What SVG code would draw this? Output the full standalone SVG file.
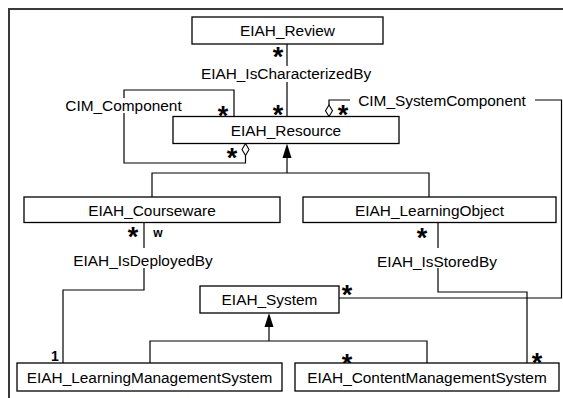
<svg xmlns="http://www.w3.org/2000/svg" width="563" height="398" viewBox="0 0 563 398">
<defs>
<style>
.box{fill:#fff;stroke:#000;stroke-width:1.3}
.cn{fill:none;stroke:#000;stroke-width:1.2}
.frame{fill:none;stroke:#3a3a3a;stroke-width:2}
.lbl{font-family:"Liberation Sans",Arial,sans-serif;font-size:15.4px;fill:#000;text-anchor:middle}
.star{font-family:"Liberation Sans",Arial,sans-serif;font-size:27px;font-weight:bold;fill:#000;text-anchor:middle}
.mult{font-family:"Liberation Sans",Arial,sans-serif;font-weight:bold;fill:#000;text-anchor:middle}
.dia{fill:#fff;stroke:#000;stroke-width:1.1}
.arr{fill:#000;stroke:none}
</style>
</defs>
<rect width="563" height="398" fill="#fff"/>
<path class="frame" d="M9,398 V9 H563"/>
<g id="connectors">
<path class="cn" d="M287,44 V66 M287,82 V116.5"/>
<text class="lbl" x="286" y="78.5">EIAH_IsCharacterizedBy</text>
<text class="star" x="278" y="65.5">*</text>
<text class="star" x="278" y="123.5">*</text>
<path class="cn" d="M234,116.5 V90 H124 V98 M124,113 V163 H245.5 V155.5"/>
<polygon class="dia" points="245.5,143.5 249,149.5 245.5,155.5 242,149.5"/>
<text class="lbl" x="123.5" y="111">CIM_Component</text>
<text class="star" x="223" y="124.5">*</text>
<text class="star" x="232" y="166.5">*</text>
<path class="cn" d="M329,105 V100 H350 M535,100 H561.5 V298 H339"/>
<polygon class="dia" points="329,105 332.5,110.75 329,116.5 325.5,110.75"/>
<text class="lbl" x="442" y="105.5">CIM_SystemComponent</text>
<text class="star" x="343" y="123.5">*</text>
<text class="star" x="347" y="303.5">*</text>
<path class="cn" d="M287,158 V173 M152,197 V173 H429 V197"/>
<polygon class="arr" points="287,143.5 291.5,158 282.5,158"/>
<path class="cn" d="M144,222.5 V248 M144,268 V290 H63 V363"/>
<text class="lbl" x="143" y="265.5">EIAH_IsDeployedBy</text>
<text class="star" x="133" y="245.5">*</text>
<text class="mult" x="158" y="236.5" font-size="12">w</text>
<text class="mult" x="55" y="360.5" font-size="14">1</text>
<path class="cn" d="M438,222.5 V248 M438,268 V292 H527 V363"/>
<text class="lbl" x="437" y="266.5">EIAH_IsStoredBy</text>
<text class="star" x="422" y="246.5">*</text>
<text class="star" x="537" y="371.5">*</text>
<path class="cn" d="M269,327 V341 M150,363 V341 H427 V363"/>
<polygon class="arr" points="269,313 273.5,327 264.5,327"/>
<text class="star" x="347" y="372.5">*</text>
</g>
<g id="EIAH_Review">
<rect class="box" x="192" y="17" width="191" height="27"/>
<text class="lbl" x="287.5" y="36">EIAH_Review</text>
</g>
<g id="EIAH_Resource">
<rect class="box" x="173" y="116.5" width="226" height="27"/>
<text class="lbl" x="286" y="135.5">EIAH_Resource</text>
</g>
<g id="EIAH_Courseware">
<rect class="box" x="24" y="197" width="256" height="25.5"/>
<text class="lbl" x="152" y="215.5">EIAH_Courseware</text>
</g>
<g id="EIAH_LearningObject">
<rect class="box" x="303" y="197" width="253" height="25.5"/>
<text class="lbl" x="429.5" y="215.5">EIAH_LearningObject</text>
</g>
<g id="EIAH_System">
<rect class="box" x="200" y="286" width="139" height="27"/>
<text class="lbl" x="269.5" y="305">EIAH_System</text>
</g>
<g id="EIAH_LearningManagementSystem">
<rect class="box" x="17" y="363" width="265" height="28"/>
<text class="lbl" x="149.5" y="382.5">EIAH_LearningManagementSystem</text>
</g>
<g id="EIAH_ContentManagementSystem">
<rect class="box" x="295" y="363" width="264" height="28"/>
<text class="lbl" x="427" y="382.5">EIAH_ContentManagementSystem</text>
</g>
</svg>
